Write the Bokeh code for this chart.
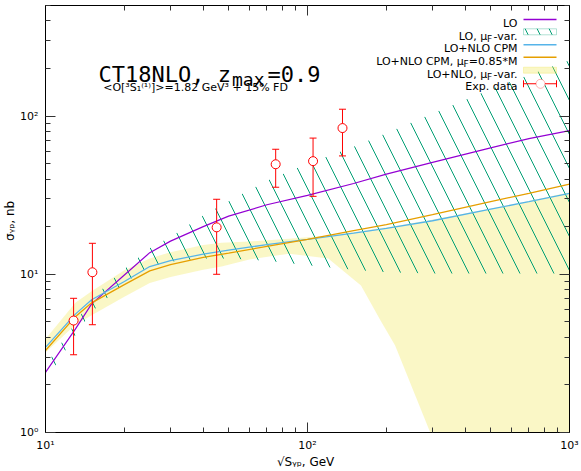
from math import log10
from bokeh.plotting import figure
from bokeh.models import (ColumnDataSource, LogAxis, FixedTicker, CustomJSTickFormatter,
                          Label, BoxAnnotation, Range1d)
from bokeh.embed import file_html
from bokeh.resources import INLINE

# ---------------- data ----------------
sqrt_s = [10, 13, 15, 20, 25, 30, 40, 50, 70, 100, 150, 200, 300, 500, 700, 1000]
lo = [2.4, 4.5, 6.5, 9.9, 13.7, 16.2, 20.0, 23.3, 27.5, 31.5, 37.5, 43.0, 51.0, 63.0, 72.0, 81.0]
lo_mu_low = [2.15, 4.1, 5.8, 8.8, 11.2, 12.0, 12.6, 12.6, 12.2, 11.4, 10.7, 10.3, 10.1, 10.1, 10.1, 10.1]
lo_mu_up = [2.65, 4.9, 7.0, 10.8, 14.6, 17.2, 23.5, 29.0, 39.0, 50.0, 64.0, 78.0, 104.0, 148.0, 182.0, 225.0]
nlo_cpm = [3.45, 5.6, 6.9, 9.0, 11.2, 12.2, 13.4, 14.2, 15.4, 16.6, 18.2, 19.5, 21.8, 25.8, 28.8, 32.5]
nlo_cpm_085 = [3.3, 5.4, 6.6, 8.6, 10.5, 11.5, 12.8, 13.6, 15.0, 16.6, 18.9, 20.6, 23.8, 28.8, 32.5, 37.2]

band_x = [10, 13, 15, 20, 25, 30, 40, 47, 60, 85, 120, 160, 190, 216, 294, 400, 600, 1000]
band_low = [3.2, 4.8, 5.5, 7.2, 8.8, 9.6, 10.7, 11.2, 12.4, 13.5, 12.6, 8.5, 5.1, 3.55, 1.0, 0.3, 0.2, 0.15]
band_up = [3.9, 6.6, 7.8, 10.6, 12.6, 13.8, 15.3, 15.8, 16.1, 16.8, 17.6, 18.8, 19.6, 20.2, 22.0, 24.2, 27.5, 33.0]

exp_x = [12.8, 15.1, 45.0, 75.6, 105.0, 136.0]
exp_y = [5.1, 10.3, 19.8, 49.6, 51.9, 84.0]
exp_lo = [3.1, 4.8, 10.0, 35.5, 31.1, 56.0]
exp_hi = [7.05, 15.7, 29.8, 61.7, 72.6, 110.5]

x_major = [10, 100, 1000]
x_minor = [20, 30, 40, 50, 60, 70, 80, 90, 200, 300, 400, 500, 600, 700, 800, 900]
y_major = [1, 10, 100]
y_minor = [2, 3, 4, 5, 6, 7, 8, 9, 20, 30, 40, 50, 60, 70, 80, 90, 200, 300, 400, 500]

legend_labels = ["LO", "LO, μ", "LO+NLO CPM", "LO+NLO CPM, μ", "LO+NLO, μ", "Exp. data"]
x_title = "√Sᵧₚ,  GeV"
y_title = "σᵧₚ,  nb"

PURPLE = "#9400d3"
GREEN = "#009e73"
SKY = "#56b4e9"
ORANGE = "#e69f00"
YELLOW = "#f0e442"
RED = "#ff0000"

# ---------------- figure ----------------
X0, X1, Y0, Y1 = 10, 1000, 1, 500
W, H = 581, 471
FL, FR, FT, FB = 45, 569, 5, 432  # frame edges in page pixels

p = figure(width=W, height=H, x_axis_type="log", y_axis_type="log",
           x_range=Range1d(X0, X1), y_range=Range1d(Y0, Y1),
           output_backend="svg", toolbar_location=None,
           min_border_left=FL, min_border_right=W - FR, min_border_top=FT,
           min_border_bottom=H - FB)
p.grid.visible = False
p.outline_line_color = "black"
p.background_fill_color = "white"
p.border_fill_color = "white"

fmt = CustomJSTickFormatter(code="""
const e = Math.round(Math.log10(tick));
const sup = {"0":"⁰","1":"¹","2":"²","3":"³","4":"⁴","-":"⁻"};
return "10" + String(e).split("").map(c => sup[c]).join("");
""")

def style_axis(ax, major, minor, labels=True):
    ax.ticker = FixedTicker(ticks=major, minor_ticks=minor)
    ax.major_tick_in = 10
    ax.major_tick_out = 0
    ax.minor_tick_in = 5
    ax.minor_tick_out = 0
    ax.axis_line_color = "black"
    ax.major_tick_line_color = "#333333"
    ax.minor_tick_line_color = "#333333"
    ax.formatter = fmt
    if labels:
        ax.major_label_text_font = "DejaVu Sans"
        ax.major_label_text_font_size = "11px"
        ax.major_label_text_color = "black"
        ax.axis_label_text_font = "DejaVu Sans"
        ax.axis_label_text_font_size = "12px"
        ax.axis_label_text_font_style = "normal"
        ax.axis_label_text_color = "black"
    else:
        ax.major_label_text_font_size = "1px"
        ax.major_label_text_alpha = 0
        ax.major_label_standoff = 0

style_axis(p.xaxis[0], x_major, x_minor)
style_axis(p.yaxis[0], y_major, y_minor)
p.xaxis[0].major_label_standoff = 6
p.yaxis[0].major_label_standoff = 7
p.xaxis[0].axis_label = x_title
p.xaxis[0].axis_label_standoff = 0
p.yaxis[0].axis_label = y_title
p.yaxis[0].axis_label_standoff = 0

top = LogAxis()
style_axis(top, x_major, x_minor, labels=False)
p.add_layout(top, "above")
right = LogAxis()
style_axis(right, y_major, y_minor, labels=False)
p.add_layout(right, "right")

# ---------------- glyphs ----------------
theory = ColumnDataSource(dict(x=sqrt_s, lo=lo, lo_low=lo_mu_low, lo_up=lo_mu_up,
                               cpm=nlo_cpm, cpm085=nlo_cpm_085))
band = ColumnDataSource(dict(x=band_x, low=band_low, up=band_up))
exp = ColumnDataSource(dict(x=exp_x, y=exp_y, lo=exp_lo, hi=exp_hi))

p.varea(x="x", y1="low", y2="up", source=band, fill_color=YELLOW, fill_alpha=0.3)
p.varea(x="x", y1="lo_low", y2="lo_up", source=theory, fill_color=None, fill_alpha=0,
        hatch_pattern="\\", hatch_color=GREEN, hatch_scale=34, hatch_weight=1)
p.line(x="x", y="lo", source=theory, line_color=PURPLE, line_width=1.2)
p.line(x="x", y="cpm", source=theory, line_color=SKY, line_width=1.3)
p.line(x="x", y="cpm085", source=theory, line_color=ORANGE, line_width=1.3)

p.segment(x0="x", y0="lo", x1="x", y1="hi", source=exp, line_color=RED, line_width=1)
p.scatter(x="x", y="lo", source=exp, marker="dash", size=7, line_color=RED, line_width=1)
p.scatter(x="x", y="hi", source=exp, marker="dash", size=7, line_color=RED, line_width=1)
p.scatter(x="x", y="y", source=exp, marker="circle", size=9, fill_color="white",
          line_color=RED, line_width=1)

# ---------------- texts inside the frame (placed by page pixel) ----------------
def dx(px):
    return 10 ** (log10(X0) + (px - FL) / (FR - FL) * (log10(X1) - log10(X0)))

def dy(py):
    return 10 ** (log10(Y0) + (FB - py) / (FB - FT) * (log10(Y1) - log10(Y0)))

def lab(text, px, py, size, font="DejaVu Sans", align="left", baseline="alphabetic",
        angle=0.0, color="black"):
    p.add_layout(Label(x=dx(px), y=dy(py), text=text,
                       text_font=font, text_font_size=f"{size}px", text_align=align,
                       text_baseline=baseline, angle=angle, text_color=color))

# title
lab("CT18NLO, z", 98, 74.3, 22, font="DejaVu Sans Mono")
lab("max", 231.5, 78.5, 18, font="DejaVu Sans Mono")
lab("=0.9", 267, 74.3, 22, font="DejaVu Sans Mono")
lab("<O[³S₁⁽¹⁾]>=1.82 GeV³ + 15% FD", 102.7, 86.7, 11)

# legend texts (right aligned at x=517)
R = 517
base = [23.3, 35.8, 48.4, 60.9, 73.5, 86.0]
lab(legend_labels[0], R, base[0], 11, align="right")
lab("-var.", R, base[1], 11, align="right")
lab("F", R - 25.2, base[1] + 2.5, 9, align="right")
lab(legend_labels[1], R - 25.2 - 5.1, base[1], 11, align="right")
lab(legend_labels[2], R, base[2], 11, align="right")
lab("=0.85*M", R, base[3], 11, align="right")
lab("F", R - 48.7, base[3] + 2.5, 9, align="right")
lab(legend_labels[3], R - 48.7 - 5.1, base[3], 11, align="right")
lab("-var.", R, base[4], 11, align="right")
lab("F", R - 25.2, base[4] + 2.5, 9, align="right")
lab(legend_labels[4], R - 25.2 - 5.1, base[4], 11, align="right")
lab(legend_labels[5], R, base[5], 11, align="right")

# legend samples
SL, SR = 523, 556

def box(l, r, t, b, **kw):
    p.add_layout(BoxAnnotation(left=dx(l), right=dx(r), top=dy(t), bottom=dy(b), **kw))

box(SL, SR, 18.3, 19.7, fill_color=PURPLE, fill_alpha=1, line_color=None)
box(SL, SR, 28.3, 34.3, fill_color=None, fill_alpha=0, line_color=GREEN, line_width=1,
    hatch_pattern="\\", hatch_color=GREEN, hatch_scale=24, hatch_weight=1)
box(SL, SR, 43.6, 45.0, fill_color=SKY, fill_alpha=1, line_color=None)
box(SL, SR, 56.0, 57.4, fill_color=ORANGE, fill_alpha=1, line_color=None)
box(SL, SR, 66.7, 72.7, fill_color=YELLOW, fill_alpha=0.3, line_color=YELLOW, line_width=1)
box(SL, SR, 82.8, 83.8, fill_color=RED, fill_alpha=1, line_color=None)
box(SL - 0.5, SL + 0.5, 79.8, 86.8, fill_color=RED, fill_alpha=1, line_color=None)
box(SR - 0.5, SR + 0.5, 79.8, 86.8, fill_color=RED, fill_alpha=1, line_color=None)
box(535.5, 544.5, 78.8, 87.8, fill_color="white", fill_alpha=1, line_color=RED,
    line_width=1, border_radius=5)

open("out.html", "w").write(file_html(p, INLINE))
